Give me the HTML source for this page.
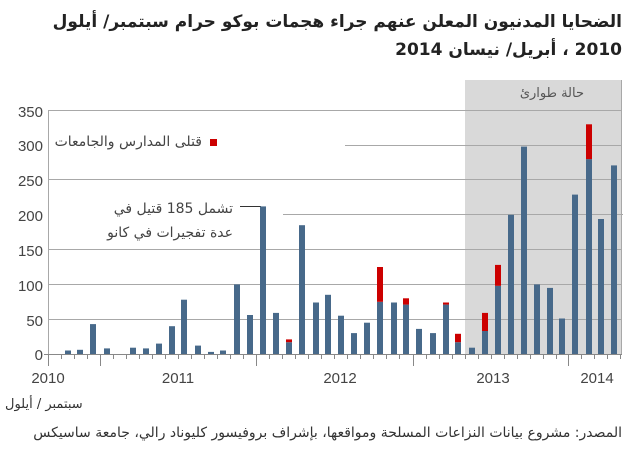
<!DOCTYPE html>
<html><head><meta charset="utf-8"><style>
html,body{margin:0;padding:0;background:#fff;}
body{position:relative;width:640px;height:451px;overflow:hidden;font-family:"Liberation Sans","DejaVu Sans",sans-serif;}
svg{display:block;position:absolute;left:0;top:0;}
.t{position:absolute;direction:rtl;text-align:right;white-space:nowrap;font-family:"DejaVu Sans","Liberation Sans",sans-serif;}
</style></head><body>
<svg width="640" height="451" viewBox="0 0 640 451" xmlns="http://www.w3.org/2000/svg" font-family="Liberation Sans, sans-serif">
<rect x="465" y="80" width="156" height="274" fill="#d9d9d9"/>
<g stroke="#a8a8a8" stroke-width="1">
<line x1="48" y1="110.5" x2="621" y2="110.5"/>
<line x1="345" y1="145.5" x2="621" y2="145.5"/>
<line x1="48" y1="179.5" x2="621" y2="179.5"/>
<line x1="283" y1="214.5" x2="623" y2="214.5"/>
<line x1="48" y1="249.5" x2="621" y2="249.5"/>
<line x1="48" y1="284.5" x2="621" y2="284.5"/>
<line x1="48" y1="319.5" x2="621" y2="319.5"/>
<line x1="48.5" y1="110" x2="48.5" y2="354"/>
<line x1="621.5" y1="80" x2="621.5" y2="354"/>
</g>
<line x1="240" y1="206.5" x2="261" y2="206.5" stroke="#333"/>
<g font-size="15" fill="#444" text-anchor="end">
<text x="43" y="117">350</text><text x="43" y="151">300</text><text x="43" y="186">250</text><text x="43" y="221">200</text><text x="43" y="256">150</text><text x="43" y="291">100</text><text x="43" y="326">50</text><text x="43" y="360">0</text>
</g>
<rect x="210" y="139" width="7" height="7" fill="#cc0000"/>
<g fill="#47698a">
<rect x="65" y="350.5" width="6" height="3.5"/>
<rect x="77" y="349.8" width="6" height="4.2"/>
<rect x="90" y="324.1" width="6" height="29.9"/>
<rect x="104" y="348.4" width="6" height="5.6"/>
<rect x="130" y="347.7" width="6" height="6.3"/>
<rect x="143" y="348.4" width="6" height="5.6"/>
<rect x="156" y="343.6" width="6" height="10.4"/>
<rect x="169" y="326.2" width="6" height="27.8"/>
<rect x="181" y="299.7" width="6" height="54.3"/>
<rect x="195" y="345.6" width="6" height="8.4"/>
<rect x="208" y="351.9" width="6" height="2.1"/>
<rect x="220" y="350.5" width="6" height="3.5"/>
<rect x="234" y="284.4" width="6" height="69.6"/>
<rect x="247" y="315" width="6" height="39"/>
<rect x="260" y="206.4" width="6" height="147.6"/>
<rect x="273" y="312.9" width="6" height="41.1"/>
<rect x="286" y="342.2" width="6" height="11.8"/>
<rect x="299" y="225.2" width="6" height="128.8"/>
<rect x="313" y="302.5" width="6" height="51.5"/>
<rect x="325" y="294.8" width="6" height="59.2"/>
<rect x="338" y="315.7" width="6" height="38.3"/>
<rect x="351" y="333.1" width="6" height="20.9"/>
<rect x="364" y="322.7" width="6" height="31.3"/>
<rect x="377" y="301.8" width="6" height="52.2"/>
<rect x="391" y="302.5" width="6" height="51.5"/>
<rect x="403" y="304.6" width="6" height="49.4"/>
<rect x="416" y="328.9" width="6" height="25.1"/>
<rect x="430" y="333.1" width="6" height="20.9"/>
<rect x="443" y="304.6" width="6" height="49.4"/>
<rect x="455" y="342.2" width="6" height="11.8"/>
<rect x="469" y="347.7" width="6" height="6.3"/>
<rect x="482" y="331" width="6" height="23"/>
<rect x="495" y="285.8" width="6" height="68.2"/>
<rect x="508" y="214.8" width="6" height="139.2"/>
<rect x="521" y="146.6" width="6" height="207.4"/>
<rect x="534" y="284.4" width="6" height="69.6"/>
<rect x="547" y="287.9" width="6" height="66.1"/>
<rect x="559" y="318.5" width="6" height="35.5"/>
<rect x="572" y="194.6" width="6" height="159.4"/>
<rect x="586" y="159.1" width="6" height="194.9"/>
<rect x="598" y="219" width="6" height="135"/>
<rect x="611" y="165.4" width="6" height="188.6"/>
</g>
<g fill="#cc0000">
<rect x="286" y="339.4" width="6" height="2.8"/>
<rect x="377" y="267" width="6" height="34.8"/>
<rect x="403" y="298.3" width="6" height="6.3"/>
<rect x="443" y="302.5" width="6" height="2.1"/>
<rect x="455" y="333.8" width="6" height="8.4"/>
<rect x="482" y="312.9" width="6" height="18.1"/>
<rect x="495" y="264.9" width="6" height="20.9"/>
<rect x="586" y="124.3" width="6" height="34.8"/>
</g>
<line x1="44" y1="354.5" x2="622" y2="354.5" stroke="#888"/>
<path stroke="#888" fill="none" d="M48.5 354v12M100.5 354v12M256.5 354v12M413.5 354v12M568.5 354v12
M61.5 354v5M74.5 354v5M87.5 354v5M113.5 354v5M126.5 354v5M139.5 354v5M152.5 354v5M165.5 354v5M178.5 354v5M191.5 354v5M204.5 354v5M217.5 354v5M230.5 354v5M243.5 354v5M269.5 354v5M282.5 354v5M295.5 354v5M308.5 354v5M321.5 354v5M334.5 354v5M347.5 354v5M360.5 354v5M373.5 354v5M386.5 354v5M399.5 354v5M426.5 354v5M439.5 354v5M452.5 354v5M465.5 354v5M478.5 354v5M491.5 354v5M504.5 354v5M517.5 354v5M530.5 354v5M543.5 354v5M556.5 354v5M581.5 354v5M594.5 354v5M607.5 354v5M620.5 354v5"/>
<g font-size="15" fill="#444" text-anchor="middle">
<text x="48" y="383">2010</text><text x="178" y="383">2011</text><text x="340" y="383">2012</text><text x="493" y="383">2013</text><text x="597" y="383">2014</text>
</g>
</svg>
<div class="t" style="right:18px;top:8px;font-size:17px;font-weight:bold;line-height:28px;color:#222;">الضحايا المدنيون المعلن عنهم جراء هجمات بوكو حرام  سبتمبر/ أيلول<br>2010 ، أبريل/ نيسان 2014</div>
<div class="t" style="right:56px;top:86px;font-size:13px;color:#555;">حالة طوارئ</div>
<div class="t" style="right:438px;top:134px;font-size:14px;color:#444;">قتلى المدارس والجامعات</div>
<div class="t" style="right:407px;top:197px;font-size:14px;line-height:24px;color:#444;">تشمل 185 قتيل في<br>عدة تفجيرات في كانو</div>
<div class="t" style="left:5px;top:397px;font-size:13px;color:#333;">سبتمبر / أيلول</div>
<div class="t" style="right:18px;top:425px;font-size:14px;color:#333;">المصدر: مشروع بيانات النزاعات المسلحة ومواقعها، بإشراف بروفيسور كليوناد رالي، جامعة ساسيكس</div>
</body></html>
